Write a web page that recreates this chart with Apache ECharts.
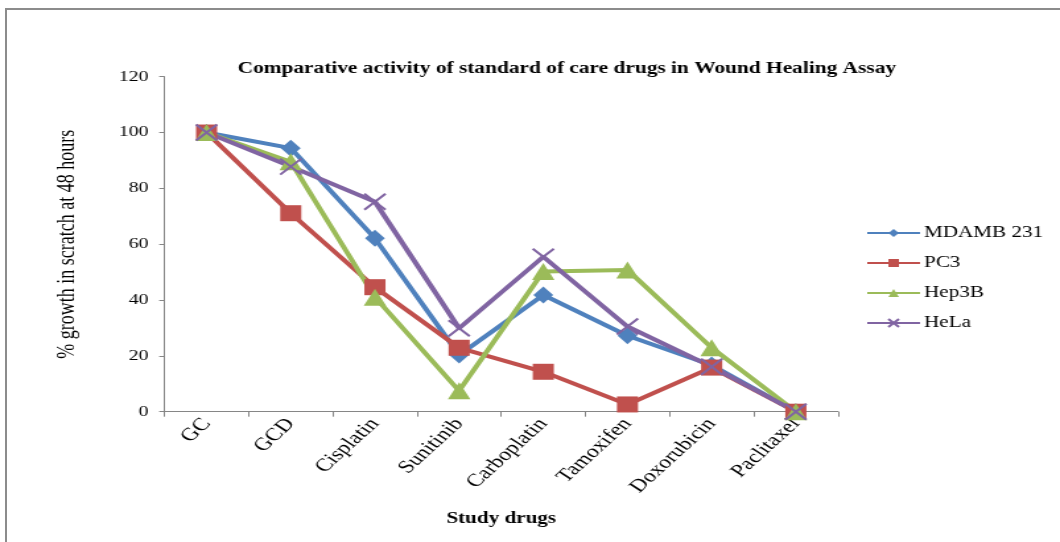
<!DOCTYPE html>
<html>
<head>
<meta charset="utf-8">
<script src="https://cdn.jsdelivr.net/npm/echarts@6/dist/echarts.min.js"></script>
<style>
  html, body { margin: 0; padding: 0; background: #fff; overflow: hidden; }
  body { width: 1060px; height: 542px; position: relative; }
  #frame {
    position: absolute; left: 5px; top: 8px; width: 1200px; height: 700px;
    border-top: 2px solid #8c8c8c; border-left: 2px solid #8c8c8c;
  }
  /* the chart is laid out narrow and widened horizontally */
  #chart {
    position: absolute; left: 0; top: 0; width: 803px; height: 542px;
    transform: scaleX(1.32); transform-origin: 0 0;
  }
</style>
</head>
<body>
<div id="frame"></div>
<div id="chart"></div>
<script>
// Study drugs on the category axis
const categories = ['GC', 'GCD', 'Cisplatin', 'Sunitinib', 'Carboplatin', 'Tamoxifen', 'Doxorubicin', 'Paclitaxel'];

// % growth in scratch at 48 hours, per cell line
const mdamb231 = [100, 94.4, 62.1, 20.3, 41.8, 27.2, 16.7, 0];
const pc3      = [100, 71.1, 44.6, 22.9, 14.3, 2.6, 15.8, 0];
const hep3b    = [100, 89.5, 41.0, 7.5, 50.2, 50.8, 22.9, 0];
const hela     = [100, 87.8, 75.2, 29.9, 55.5, 30.5, 16.1, 0];

// value axis range
const yMin = 0;
const yMax = 120;
const yStep = 20;

const serif = "'Liberation Serif', 'Times New Roman', serif";
const axisGrey = '#868686';

const chart = echarts.init(document.getElementById('chart'), null, { width: 803, height: 542, renderer: 'canvas' });

const crossPath = 'path://M0,0L10,10M10,0L0,10';

chart.setOption({
  animation: false,
  backgroundColor: 'transparent',
  title: {
    text: 'Comparative activity of standard of care drugs in Wound Healing Assay',
    left: 180, top: 61, padding: 0,
    textStyle: { fontFamily: serif, fontSize: 16.2, fontWeight: 'bold', color: '#000' }
  },
  legend: {
    orient: 'vertical',
    left: 656, top: 225, padding: 0,
    itemWidth: 40, itemHeight: 10, itemGap: 14,
    textStyle: { fontFamily: serif, fontSize: 16, color: '#000', padding: [0, 0, 0, -2] },
    data: ['MDAMB 231', 'PC3', 'Hep3B', 'HeLa']
  },
  grid: { left: 124.6, right: 168.2, top: 76.7, bottom: 130.3, containLabel: false },
  xAxis: {
    type: 'category',
    data: categories,
    boundaryGap: true,
    name: 'Study drugs',
    nameLocation: 'middle',
    nameGap: 99,
    nameTextStyle: { fontFamily: serif, fontSize: 16, fontWeight: 'bold', color: '#000' },
    axisLine: { lineStyle: { color: axisGrey, width: 1 } },
    axisTick: { show: true, length: 5, lineStyle: { color: axisGrey } },
    axisLabel: { rotate: 50, margin: 9, fontFamily: serif, fontSize: 18, color: '#000', interval: 0 },
    splitLine: { show: false }
  },
  yAxis: {
    type: 'value',
    min: yMin, max: yMax, interval: yStep,
    name: '% growth in scratch at 48 hours',
    nameLocation: 'middle',
    nameGap: 64,
    nameRotate: 90,
    nameTextStyle: { fontFamily: serif, fontSize: 18, fontWeight: 'normal', color: '#000' },
    axisLine: { show: true, lineStyle: { color: axisGrey, width: 1 } },
    axisTick: { show: true, length: 4, lineStyle: { color: axisGrey } },
    axisLabel: { margin: 12, fontFamily: serif, fontSize: 15, color: '#000' },
    splitLine: { show: false }
  },
  series: [
    {
      name: 'MDAMB 231', type: 'line', data: mdamb231,
      symbol: 'diamond', symbolSize: [15, 17],
      lineStyle: { width: 4, color: '#4F81BD' },
      itemStyle: { color: '#4F81BD' }
    },
    {
      name: 'PC3', type: 'line', data: pc3,
      symbol: 'rect', symbolSize: [16, 16],
      lineStyle: { width: 4, color: '#C0504D' },
      itemStyle: { color: '#C0504D' }
    },
    {
      name: 'Hep3B', type: 'line', data: hep3b,
      symbol: 'triangle', symbolSize: [17, 17],
      lineStyle: { width: 4, color: '#9BBB59' },
      itemStyle: { color: '#9BBB59' }
    },
    {
      name: 'HeLa', type: 'line', data: hela,
      symbol: crossPath, symbolSize: [16, 16],
      lineStyle: { width: 4, color: '#8064A2' },
      itemStyle: { color: 'rgba(0,0,0,0)', borderColor: '#8064A2', borderWidth: 2 }
    }
  ]
});
</script>
</body>
</html>
